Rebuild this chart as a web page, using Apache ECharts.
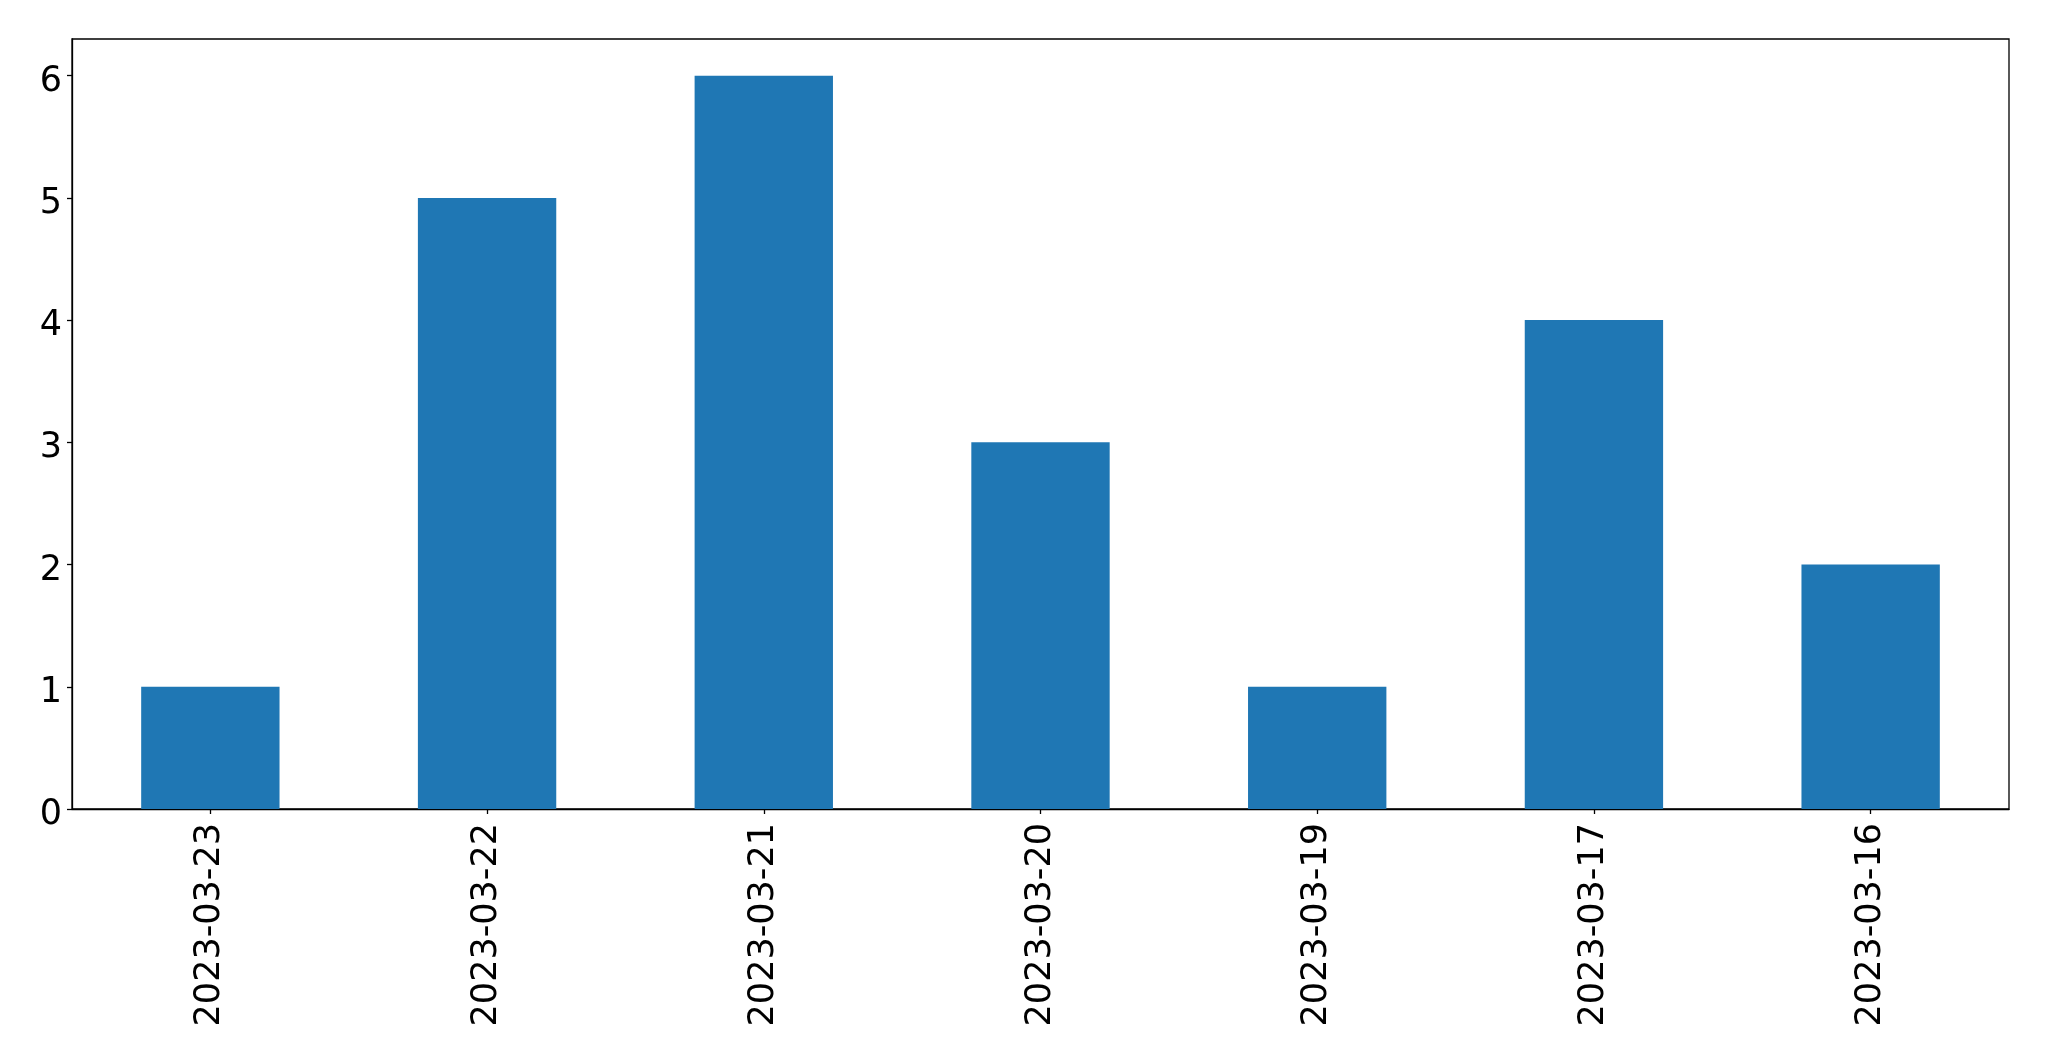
<!DOCTYPE html>
<html>
<head>
<meta charset="utf-8">
<script src="https://cdn.jsdelivr.net/npm/echarts@6/dist/echarts.min.js"></script>
<style>
html,body{margin:0;padding:0;background:#fff;}
#chart{width:2049px;height:1061px;}
</style>
</head>
<body>
<div id="chart"></div>
<script>
const categories = ['2023-03-23','2023-03-22','2023-03-21','2023-03-20','2023-03-19','2023-03-17','2023-03-16'];
const values = [1, 5, 6, 3, 1, 4, 2];
const yTicks = [0, 1, 2, 3, 4, 5, 6];

const chart = echarts.init(document.getElementById('chart'), null, {renderer: 'canvas'});
const font = 'DejaVu Sans';
chart.setOption({
  animation: false,
  backgroundColor: '#ffffff',
  grid: {
    left: 72, right: 40, top: 39, bottom: 252,
    show: true, borderColor: '#000', borderWidth: 1.3, backgroundColor: 'transparent'
  },
  xAxis: {
    type: 'category',
    data: categories,
    axisLine: {show: true, lineStyle: {color: '#000', width: 1.3}},
    axisTick: {show: true, alignWithLabel: true, length: 5, lineStyle: {color: '#000', width: 1.3}},
    axisLabel: {rotate: 90, margin: 14, color: '#000', fontSize: 35, fontFamily: font, interval: 0},
    splitLine: {show: false}
  },
  yAxis: {
    type: 'value',
    min: 0, max: 6.3, interval: 1,
    axisLine: {show: true, lineStyle: {color: '#000', width: 1.3}},
    axisTick: {show: true, length: 5, lineStyle: {color: '#000', width: 1.3}, customValues: yTicks},
    axisLabel: {
      margin: 10, customValues: yTicks,
      formatter: function (v) { return '{a|' + v + '}'; },
      rich: {a: {color: '#000', fontSize: 35, fontFamily: font, padding: [12, 0, 0, 0]}}
    },
    splitLine: {show: false}
  },
  series: [{
    type: 'bar',
    data: values,
    barCategoryGap: '50%',
    itemStyle: {color: '#1f77b4'}
  }]
});
</script>
</body>
</html>
